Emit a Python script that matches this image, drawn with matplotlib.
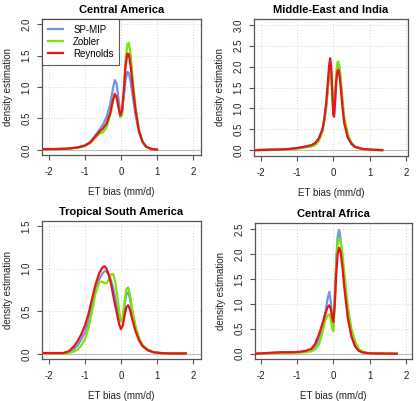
import matplotlib
matplotlib.use('Agg')
import matplotlib.pyplot as plt

plt.rcParams['font.family'] = ['Liberation Sans', 'DejaVu Sans']

# ---- data (density of ET bias, mm/d) ----
series_names = ['SP-MIP', 'Zobler', 'Reynolds']
series_colors = ['#6a96e8', '#7fe30a', '#e8141a']

titles = ['Central America', 'Middle-East and India',
          'Tropical South America', 'Central Africa']

ca_x = [-2.15, -1.8, -1.5, -1.2, -1.0, -0.85, -0.7, -0.6, -0.5, -0.4, -0.3,
        -0.22, -0.17, -0.12, -0.07, -0.02, 0.03, 0.08, 0.13, 0.18, 0.22, 0.27,
        0.32, 0.4, 0.5, 0.6, 0.7, 0.85, 1.0]
ca_spmip = [0.01, 0.015, 0.02, 0.04, 0.07, 0.13, 0.24, 0.32, 0.40, 0.52, 0.72,
            0.98, 1.11, 1.05, 0.82, 0.60, 0.62, 0.85, 1.12, 1.24, 1.22, 1.08,
            0.88, 0.57, 0.28, 0.12, 0.05, 0.015, 0.005]
ca_zobler = [0.01, 0.012, 0.018, 0.035, 0.06, 0.11, 0.20, 0.26, 0.28, 0.36, 0.55,
             0.78, 0.87, 0.85, 0.70, 0.52, 0.55, 0.95, 1.45, 1.68, 1.70, 1.50,
             1.15, 0.70, 0.32, 0.13, 0.05, 0.015, 0.005]
ca_reynolds = [0.015, 0.015, 0.02, 0.04, 0.07, 0.12, 0.22, 0.29, 0.34, 0.42, 0.58,
               0.80, 0.89, 0.84, 0.68, 0.55, 0.62, 0.95, 1.35, 1.53, 1.52, 1.33,
               1.05, 0.65, 0.30, 0.13, 0.05, 0.015, 0.005]

mei_x = [-2.15, -1.8, -1.5, -1.2, -1.0, -0.8, -0.6, -0.5, -0.4, -0.3, -0.25,
         -0.2, -0.15, -0.12, -0.09, -0.06, -0.03, 0.0, 0.02, 0.05, 0.08, 0.11,
         0.14, 0.17, 0.2, 0.25, 0.3, 0.4, 0.5, 0.6, 0.8, 1.0, 1.35]
mei_spmip = [0.0, 0.01, 0.015, 0.03, 0.05, 0.08, 0.12, 0.17, 0.28, 0.5, 0.72,
             1.05, 1.5, 1.8, 1.95, 1.85, 1.4, 0.92, 0.88, 1.25, 1.7, 1.95,
             2.0, 1.88, 1.62, 1.1, 0.68, 0.3, 0.15, 0.07, 0.03, 0.01, 0.0]
mei_zobler = [0.0, 0.005, 0.01, 0.02, 0.04, 0.06, 0.09, 0.12, 0.22, 0.45, 0.68,
              1.0, 1.5, 1.8, 1.9, 1.8, 1.35, 0.85, 0.88, 1.35, 1.85, 2.1,
              2.12, 2.0, 1.75, 1.25, 0.8, 0.38, 0.18, 0.08, 0.03, 0.01, 0.0]
mei_reynolds = [0.0, 0.01, 0.015, 0.03, 0.05, 0.08, 0.12, 0.17, 0.28, 0.5, 0.75,
                1.1, 1.65, 2.0, 2.2, 2.0, 1.4, 0.85, 0.8, 1.2, 1.65, 1.88,
                1.92, 1.8, 1.55, 1.05, 0.65, 0.3, 0.15, 0.08, 0.03, 0.015, 0.0]

tsa_x = [-2.15, -1.8, -1.6, -1.45, -1.3, -1.2, -1.1, -1.0, -0.9, -0.8, -0.7,
         -0.6, -0.52, -0.46, -0.4, -0.34, -0.28, -0.22, -0.16, -0.1, -0.05, 0.0,
         0.05, 0.1, 0.15, 0.2, 0.25, 0.3, 0.4, 0.5, 0.6, 0.75, 0.9, 1.1, 1.4, 1.8]
tsa_spmip = [0.01, 0.01, 0.01, 0.02, 0.06, 0.10, 0.17, 0.25, 0.38, 0.56, 0.75,
             0.88, 0.94, 0.97, 0.97, 0.93, 0.87, 0.78, 0.66, 0.53, 0.43, 0.38,
             0.42, 0.58, 0.70, 0.72, 0.65, 0.52, 0.32, 0.18, 0.10, 0.05, 0.02,
             0.01, 0.005, 0.005]
tsa_zobler = [0.005, 0.005, 0.005, 0.01, 0.03, 0.05, 0.10, 0.17, 0.30, 0.50, 0.72,
              0.84, 0.85, 0.83, 0.83, 0.87, 0.93, 0.94, 0.85, 0.68, 0.50, 0.38,
              0.42, 0.62, 0.76, 0.78, 0.70, 0.55, 0.33, 0.19, 0.10, 0.05, 0.02,
              0.01, 0.008, 0.008]
tsa_reynolds = [0.01, 0.01, 0.01, 0.03, 0.09, 0.15, 0.23, 0.33, 0.47, 0.65, 0.82,
                0.95, 1.01, 1.03, 1.00, 0.93, 0.83, 0.70, 0.57, 0.45, 0.35, 0.29,
                0.33, 0.45, 0.55, 0.57, 0.52, 0.43, 0.27, 0.16, 0.09, 0.04, 0.02,
                0.01, 0.005, 0.005]

caf_x = [-2.15, -1.7, -1.4, -1.1, -0.9, -0.75, -0.6, -0.5, -0.4, -0.3, -0.22,
         -0.16, -0.11, -0.07, -0.03, 0.0, 0.04, 0.08, 0.12, 0.16, 0.2, 0.25,
         0.3, 0.4, 0.5, 0.6, 0.7, 0.8, 0.95, 1.2, 1.75]
caf_spmip = [0.0, 0.015, 0.025, 0.03, 0.035, 0.05, 0.08, 0.14, 0.28, 0.50, 0.82,
             1.10, 1.24, 1.05, 0.70, 0.55, 1.15, 1.90, 2.35, 2.48, 2.30, 1.90,
             1.45, 0.75, 0.35, 0.15, 0.06, 0.025, 0.01, 0.005, 0.0]
caf_zobler = [0.0, 0.01, 0.015, 0.02, 0.025, 0.03, 0.05, 0.09, 0.18, 0.42, 0.68,
              0.77, 0.79, 0.70, 0.50, 0.45, 0.95, 1.70, 2.20, 2.32, 2.25, 2.00,
              1.65, 0.95, 0.50, 0.25, 0.10, 0.04, 0.015, 0.005, 0.0]
caf_reynolds = [0.0, 0.02, 0.03, 0.03, 0.04, 0.06, 0.10, 0.20, 0.38, 0.60, 0.80,
                0.93, 0.97, 0.90, 0.72, 0.64, 1.00, 1.60, 2.00, 2.12, 2.05, 1.75,
                1.35, 0.72, 0.35, 0.15, 0.06, 0.03, 0.01, 0.005, 0.0]

panel_x = [ca_x, mei_x, tsa_x, caf_x]
panel_y = [[ca_spmip, ca_zobler, ca_reynolds],
           [mei_spmip, mei_zobler, mei_reynolds],
           [tsa_spmip, tsa_zobler, tsa_reynolds],
           [caf_spmip, caf_zobler, caf_reynolds]]
panel_yticks = [[0, 0.5, 1.0, 1.5, 2.0],
                [0, 0.5, 1.0, 1.5, 2.0, 2.5, 3.0],
                [0, 0.5, 1.0, 1.5],
                [0, 0.5, 1.0, 1.5, 2.0, 2.5]]
panel_ylim = [(-0.08, 2.08), (-0.14, 3.14), (-0.06, 1.56), (-0.106, 2.62)]
panel_xlim = [(-2.19, 2.22), (-2.19, 2.06), (-2.19, 2.22), (-2.16, 2.17)]
xticks = [-2, -1, 0, 1, 2]

# ---- layout in pixels (left, top, right, bottom) ----
W, H = 418, 401
boxes = [(42, 19, 201, 155), (254, 19, 408, 156),
         (42, 221, 201, 359), (255, 223, 412, 359)]

fig = plt.figure(figsize=(W / 100, H / 100), dpi=100)
frame_col = '#555555'

for i in range(4):
    l, t, r, b = boxes[i]
    ax = fig.add_axes([l / W, 1 - b / H, (r - l) / W, (b - t) / H])
    ax.set_xlim(panel_xlim[i])
    ax.set_ylim(panel_ylim[i])
    ax.set_xticks(xticks)
    ax.set_xticklabels([str(v) for v in xticks])
    ax.set_yticks(panel_yticks[i])
    ax.set_yticklabels(['%.1f' % v for v in panel_yticks[i]], rotation=90, va='center')
    for v in xticks:
        ax.axvline(v, color='#d3d3d3', lw=0.7, ls=(0, (1, 2)), zorder=0)
    for v in panel_yticks[i]:
        ax.axhline(v, color='#d3d3d3', lw=0.7, ls=(0, (1, 2)), zorder=0)
    ax.axhline(0, color='#bdbdbd', lw=0.8, zorder=1)

    for j in range(3):
        ax.plot(panel_x[i], panel_y[i][j], color=series_colors[j], lw=1.6,
                label=series_names[j], zorder=2 + j)

    ax.tick_params(labelsize=7, length=3.5, width=0.8, color=frame_col,
                   labelcolor='#222222')
    ax.tick_params(axis='x', pad=5)
    ax.tick_params(axis='y', pad=4)
    for s in ax.spines.values():
        s.set_color(frame_col)
        s.set_linewidth(0.9)
    ax.set_title(titles[i], fontsize=8, fontweight='bold', pad=4)
    ax.set_xlabel('ET bias (mm/d)', fontsize=7, color='#222222', labelpad=7)
    ax.set_ylabel('density estimation', fontsize=7, color='#222222', labelpad=6)

    if i == 0:
        leg = ax.legend(loc='upper left', fontsize=7, frameon=True, fancybox=False,
                        borderaxespad=0, handlelength=1.6, handletextpad=1.0,
                        borderpad=0.6, labelspacing=0.2)
        leg.get_frame().set_edgecolor('#333333')
        leg.get_frame().set_linewidth(0.8)

fig.savefig('out.png', dpi=100)
